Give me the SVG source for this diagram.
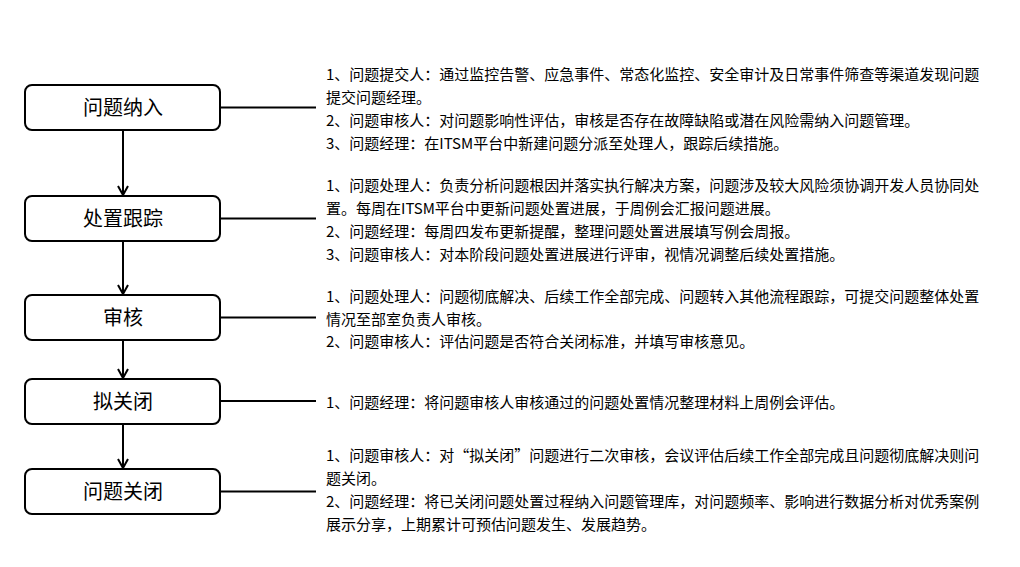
<svg xmlns="http://www.w3.org/2000/svg" width="1020" height="567" viewBox="0 0 1020 567">
<defs>
<style>
.box{fill:#fff;stroke:#000;stroke-width:2}
.lbl{font-family:"Microsoft YaHei","Noto Sans CJK SC",sans-serif;font-size:20px;fill:#000;text-anchor:middle}
.txt{font-family:"Microsoft YaHei","Noto Sans CJK SC",sans-serif;font-size:15px;fill:#000}
.ln{stroke:#000;stroke-width:2;fill:none}
</style>
<marker id="arr" viewBox="0 0 12 12" refX="10" refY="6" markerWidth="12" markerHeight="12" markerUnits="userSpaceOnUse" orient="auto">
<polyline points="1,1 10,6 1,11" fill="none" stroke="#000" stroke-width="2"/>
</marker>
</defs>
<rect width="1020" height="567" fill="#fff"/>
<g id="connectors">
<line class="ln" x1="123" y1="130" x2="123" y2="195" marker-end="url(#arr)"/>
<line class="ln" x1="123" y1="241" x2="123" y2="294" marker-end="url(#arr)"/>
<line class="ln" x1="123" y1="340" x2="123" y2="378" marker-end="url(#arr)"/>
<line class="ln" x1="123" y1="424" x2="123" y2="468" marker-end="url(#arr)"/>
<line class="ln" x1="220" y1="107.5" x2="316" y2="107.5"/>
<line class="ln" x1="220" y1="218.5" x2="316" y2="218.5"/>
<line class="ln" x1="220" y1="317.5" x2="316" y2="317.5"/>
<line class="ln" x1="220" y1="401" x2="316" y2="401"/>
<line class="ln" x1="220" y1="491.5" x2="316" y2="491.5"/>
</g>
<g id="n1">
<rect class="box" x="25" y="85" width="195" height="45" rx="7"/>
<text class="lbl" x="123" y="114.5">问题纳入</text>
</g>
<g id="n2">
<rect class="box" x="25" y="196" width="195" height="45" rx="7"/>
<text class="lbl" x="123" y="225.5">处置跟踪</text>
</g>
<g id="n3">
<rect class="box" x="25" y="295" width="195" height="45" rx="7"/>
<text class="lbl" x="123" y="324.5">审核</text>
</g>
<g id="n4">
<rect class="box" x="25" y="379" width="195" height="45" rx="7"/>
<text class="lbl" x="123" y="408.5">拟关闭</text>
</g>
<g id="n5">
<rect class="box" x="25" y="469" width="195" height="45" rx="7"/>
<text class="lbl" x="123" y="498.5">问题关闭</text>
</g>
<g id="t1" class="txt">
<text class="txt" x="326" y="80">1、问题提交人：通过监控告警、应急事件、常态化监控、安全审计及日常事件筛查等渠道发现问题</text>
<text class="txt" x="326" y="103">提交问题经理。</text>
<text class="txt" x="326" y="126">2、问题审核人：对问题影响性评估，审核是否存在故障缺陷或潜在风险需纳入问题管理。</text>
<text class="txt" x="326" y="149">3、问题经理：在ITSM平台中新建问题分派至处理人，跟踪后续措施。</text>
</g>
<g id="t2">
<text class="txt" x="326" y="191">1、问题处理人：负责分析问题根因并落实执行解决方案，问题涉及较大风险须协调开发人员协同处</text>
<text class="txt" x="326" y="214">置。每周在ITSM平台中更新问题处置进展，于周例会汇报问题进展。</text>
<text class="txt" x="326" y="237">2、问题经理：每周四发布更新提醒，整理问题处置进展填写例会周报。</text>
<text class="txt" x="326" y="260">3、问题审核人：对本阶段问题处置进展进行评审，视情况调整后续处置措施。</text>
</g>
<g id="t3">
<text class="txt" x="326" y="302">1、问题处理人：问题彻底解决、后续工作全部完成、问题转入其他流程跟踪，可提交问题整体处置</text>
<text class="txt" x="326" y="325">情况至部室负责人审核。</text>
<text class="txt" x="326" y="347">2、问题审核人：评估问题是否符合关闭标准，并填写审核意见。</text>
</g>
<g id="t4">
<text class="txt" x="326" y="408">1、问题经理：将问题审核人审核通过的问题处置情况整理材料上周例会评估。</text>
</g>
<g id="t5">
<text class="txt" x="326" y="461">1、问题审核人：对“拟关闭”问题进行二次审核，会议评估后续工作全部完成且问题彻底解决则问</text>
<text class="txt" x="326" y="484">题关闭。</text>
<text class="txt" x="326" y="507">2、问题经理：将已关闭问题处置过程纳入问题管理库，对问题频率、影响进行数据分析对优秀案例</text>
<text class="txt" x="326" y="530">展示分享，上期累计可预估问题发生、发展趋势。</text>
</g>
</svg>
